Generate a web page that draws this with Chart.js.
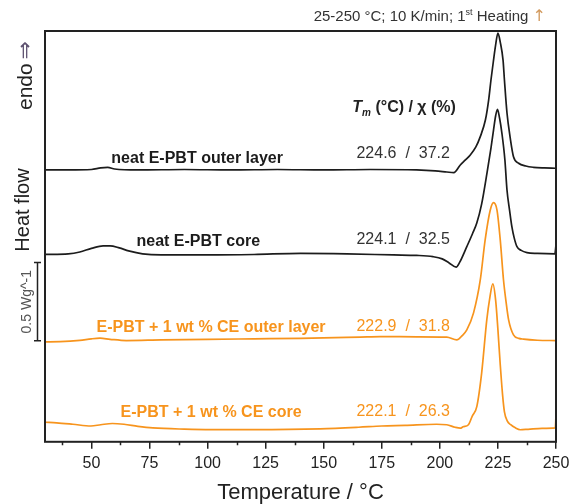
<!DOCTYPE html>
<html>
<head>
<meta charset="utf-8">
<script src="https://cdn.jsdelivr.net/npm/chart.js@4.4.1/dist/chart.umd.min.js"></script>
<style>
  html, body { margin: 0; padding: 0; background: #fff; }
</style>
</head>
<body>
<canvas id="dscChart" width="569" height="504"></canvas>
<script>
// DSC traces, 1st heating. Temperature in °C, heat flow in W/g (curves stacked as plotted)
const neatOuterT = [30, 40, 50, 54, 57, 60, 70, 90, 110, 130, 150, 170, 190, 198, 203, 206, 208.8, 211, 213.1, 215.5, 217.4, 219.6, 221, 222, 223, 224, 225, 226, 227.2, 227.8, 228.9, 230.3, 231.7, 233.9, 237, 240.3, 245, 249.7];
const neatOuterHF = [1.737, 1.737, 1.740, 1.750, 1.753, 1.743, 1.737, 1.740, 1.737, 1.740, 1.737, 1.740, 1.737, 1.731, 1.724, 1.720, 1.769, 1.801, 1.833, 1.884, 1.950, 2.056, 2.184, 2.312, 2.427, 2.535, 2.612, 2.554, 2.439, 2.312, 2.101, 1.941, 1.822, 1.780, 1.762, 1.754, 1.750, 1.748];

const neatCoreT = [30, 40, 45, 50, 55, 58, 62, 66, 72, 80, 100, 120, 140, 160, 180, 190, 197, 201, 204, 207, 208.5, 211.6, 214, 215.9, 218, 220.3, 222, 223.1, 224, 224.8, 225.7, 226.7, 228, 228.9, 230, 231, 232, 233.2, 235, 237.5, 242, 249.5, 250];
const neatCoreHF = [1.197, 1.201, 1.213, 1.236, 1.252, 1.252, 1.239, 1.220, 1.201, 1.194, 1.194, 1.197, 1.204, 1.201, 1.194, 1.191, 1.183, 1.169, 1.143, 1.116, 1.146, 1.247, 1.328, 1.398, 1.520, 1.718, 1.877, 1.992, 2.082, 2.125, 2.069, 1.973, 1.801, 1.609, 1.481, 1.375, 1.303, 1.247, 1.223, 1.209, 1.204, 1.201, 1.258];

const ceOuterT = [30, 36.5, 45, 50, 53.7, 58, 65, 80, 100, 120, 140, 165.7, 174.3, 190, 203, 207.3, 209.5, 211.6, 214.5, 217.4, 219.5, 221.7, 223.1, 224.6, 226, 227.4, 228.5, 229.6, 231.7, 234, 236, 242, 250];
const ceOuterHF = [0.639, 0.640, 0.648, 0.658, 0.662, 0.655, 0.647, 0.651, 0.655, 0.658, 0.661, 0.669, 0.672, 0.671, 0.669, 0.651, 0.677, 0.715, 0.824, 1.034, 1.290, 1.481, 1.528, 1.481, 1.290, 1.034, 0.894, 0.779, 0.683, 0.661, 0.656, 0.649, 0.647];

const ceCoreT = [30, 35, 42, 49.8, 54, 59, 64, 70, 76.4, 90, 101.5, 120, 148.5, 165, 175, 185, 198.6, 203, 206.5, 208.8, 210, 212.3, 214, 215.9, 218, 220.2, 221.5, 222.8, 224, 225, 226, 227, 227.8, 229, 230.5, 232.5, 234.6, 238, 244, 249.7, 250];
const ceCoreHF = [0.125, 0.121, 0.112, 0.101, 0.109, 0.117, 0.112, 0.099, 0.089, 0.081, 0.078, 0.078, 0.083, 0.093, 0.101, 0.105, 0.112, 0.109, 0.093, 0.087, 0.096, 0.109, 0.166, 0.225, 0.441, 0.779, 0.920, 1.009, 0.907, 0.715, 0.492, 0.300, 0.191, 0.134, 0.109, 0.089, 0.077, 0.080, 0.086, 0.089, 0.172];

const curveNames = ['neat E-PBT outer layer', 'neat E-PBT core', 'E-PBT + 1 wt % CE outer layer', 'E-PBT + 1 wt % CE core'];
const meltTemps = ['224.6', '224.1', '222.9', '222.1'];
const crystallinity = ['37.2', '32.5', '31.8', '26.3'];

const xTicks = [50, 75, 100, 125, 150, 175, 200, 225, 250];
const xMinorTicks = [37.5, 62.5, 87.5, 112.5, 137.5, 162.5, 187.5, 212.5, 237.5];

const scaleBarBase = 0.645;   // W/g
const scaleBarSize = 0.5;     // W/g

// where the annotations sit, in data units (°C, W/g)
const nameX = [95.5, 96, 101.5, 101.5];
const nameY = [1.807, 1.277, 0.728, 0.185];
const valueX = 184.2;
const valueY = [1.839, 1.290, 0.734, 0.192];
const headerX = 184.6;
const headerY = 2.133;

const BLACK = '#1c1c1c';
const ORANGE = '#f7941d';
const curveColors = [BLACK, BLACK, ORANGE, ORANGE];
const FONT = '"Liberation Sans", Arial, sans-serif';

function toPoints(ts, hs) {
  return ts.map((t, i) => ({ x: t, y: hs[i] }));
}

const series = [
  toPoints(neatOuterT, neatOuterHF),
  toPoints(neatCoreT, neatCoreHF),
  toPoints(ceOuterT, ceOuterHF),
  toPoints(ceCoreT, ceCoreHF),
];

const annotations = {
  id: 'annotations',
  afterDatasetsDraw(chart) {
    const { ctx, chartArea: a } = chart;
    const xs = chart.scales.x;
    const ys = chart.scales.y;
    ctx.save();

    // frame
    ctx.strokeStyle = '#222';
    ctx.lineWidth = 2;
    ctx.strokeRect(a.left, a.top, a.right - a.left, a.bottom - a.top);

    // minor ticks
    ctx.lineWidth = 1.5;
    ctx.beginPath();
    xMinorTicks.forEach(v => {
      const px = Math.round(xs.getPixelForValue(v)) + 0.5;
      ctx.moveTo(px, a.bottom);
      ctx.lineTo(px, a.bottom + 3.5);
    });
    ctx.stroke();

    // curve names and Tm / chi values
    ctx.textBaseline = 'middle';
    ctx.textAlign = 'center';
    curveNames.forEach((name, i) => {
      ctx.fillStyle = curveColors[i];
      ctx.font = 'bold 16px ' + FONT;
      ctx.fillText(name, xs.getPixelForValue(nameX[i]), ys.getPixelForValue(nameY[i]));
      ctx.font = '16px ' + FONT;
      ctx.fillStyle = i < 2 ? '#333' : ORANGE;
      ctx.fillText(meltTemps[i] + '  /  ' + crystallinity[i], xs.getPixelForValue(valueX), ys.getPixelForValue(valueY[i]));
    });

    // header: Tm (°C) / χ (%)
    const hx = xs.getPixelForValue(headerX);
    const hy = ys.getPixelForValue(headerY);
    ctx.fillStyle = '#222';
    ctx.textAlign = 'left';
    const parts = [
      { t: 'T', f: 'italic bold 16px ' + FONT, dy: 0 },
      { t: 'm', f: 'italic bold 10px ' + FONT, dy: 5 },
      { t: ' (°C) / χ (%)', f: 'bold 16px ' + FONT, dy: 0 },
    ];
    let total = 0;
    parts.forEach(p => { ctx.font = p.f; p.w = ctx.measureText(p.t).width; total += p.w; });
    let cx = hx - total / 2;
    parts.forEach(p => { ctx.font = p.f; ctx.fillText(p.t, cx, hy + p.dy); cx += p.w; });

    // top note: 25-250 °C; 10 K/min; 1st Heating ↑
    ctx.textBaseline = 'alphabetic';
    const tParts = [
      { t: '25-250 °C; 10 K/min; 1', f: '15px ' + FONT, dy: 0, c: '#333' },
      { t: 'st', f: '9px ' + FONT, dy: -6, c: '#333' },
      { t: ' Heating ', f: '15px ' + FONT, dy: 0, c: '#333' },
      { t: '↑', f: '16px "DejaVu Sans", sans-serif', dy: 0, c: '#d29a5e' },
    ];
    total = 0;
    tParts.forEach(p => { ctx.font = p.f; p.w = ctx.measureText(p.t).width; total += p.w; });
    cx = 546 - total;
    tParts.forEach(p => { ctx.font = p.f; ctx.fillStyle = p.c; ctx.fillText(p.t, cx, 21 + p.dy); cx += p.w; });

    // scale bar 0.5 W/g
    const bx = a.left - 7.5;
    const b0 = ys.getPixelForValue(scaleBarBase);
    const b1 = ys.getPixelForValue(scaleBarBase + scaleBarSize);
    ctx.strokeStyle = '#222';
    ctx.lineWidth = 1.5;
    ctx.beginPath();
    ctx.moveTo(bx, b0); ctx.lineTo(bx, b1);
    ctx.moveTo(bx - 3.5, b0); ctx.lineTo(bx + 3.5, b0);
    ctx.moveTo(bx - 3.5, b1); ctx.lineTo(bx + 3.5, b1);
    ctx.stroke();

    // rotated texts on the left
    ctx.save();
    ctx.translate(27, (b0 + b1) / 2);
    ctx.rotate(-Math.PI / 2);
    ctx.textAlign = 'center';
    ctx.textBaseline = 'middle';
    ctx.font = '14px ' + FONT;
    ctx.fillStyle = '#555';
    ctx.fillText('0.5 Wg^-1', 0, 0);
    ctx.restore();

    ctx.save();
    ctx.translate(23, 210);
    ctx.rotate(-Math.PI / 2);
    ctx.textAlign = 'center';
    ctx.textBaseline = 'middle';
    ctx.font = '20px ' + FONT;
    ctx.fillStyle = '#222';
    ctx.fillText('Heat flow', 0, 0);
    ctx.restore();

    ctx.save();
    ctx.translate(26, 110);
    ctx.rotate(-Math.PI / 2);
    ctx.textAlign = 'left';
    ctx.textBaseline = 'middle';
    ctx.font = '21px ' + FONT;
    ctx.fillStyle = '#222';
    ctx.fillText('endo', 0, 0);
    const ew = ctx.measureText('endo ').width;
    ctx.font = '22px "DejaVu Sans", sans-serif';
    ctx.fillStyle = '#5e5270';
    ctx.fillText('⇒', ew - 2, 0);
    ctx.restore();

    ctx.restore();
  }
};

new Chart(document.getElementById('dscChart'), {
  type: 'line',
  data: {
    datasets: series.map((pts, i) => ({
      label: curveNames[i],
      data: pts,
      borderColor: curveColors[i],
      borderWidth: 1.7,
      pointRadius: 0,
      fill: false,
      cubicInterpolationMode: 'monotone',
    })),
  },
  options: {
    responsive: false,
    animation: false,
    events: [],
    layout: { padding: { left: 45, right: 13, top: 31, bottom: 0 } },
    plugins: {
      legend: { display: false },
      tooltip: { enabled: false },
    },
    scales: {
      x: {
        type: 'linear',
        min: 30,
        max: 250,
        afterBuildTicks: (scale) => { scale.ticks = xTicks.map(v => ({ value: v })); },
        afterFit: (scale) => { scale.paddingLeft = 0; scale.paddingRight = 0; },
        grid: { display: true, drawOnChartArea: false, drawTicks: true, tickLength: 7, color: '#222', lineWidth: 1.5 },
        border: { display: false },
        ticks: { color: '#222', font: { family: FONT, size: 16 }, padding: 5, maxRotation: 0, autoSkip: false },
        title: { display: true, text: 'Temperature / °C', color: '#222', font: { family: FONT, size: 22, lineHeight: 1 }, padding: { top: 4, bottom: 0 } },
      },
      y: {
        type: 'linear',
        display: false,
        min: 0,
        max: 2.625,
      },
    },
  },
  plugins: [annotations],
});
</script>
</body>
</html>
